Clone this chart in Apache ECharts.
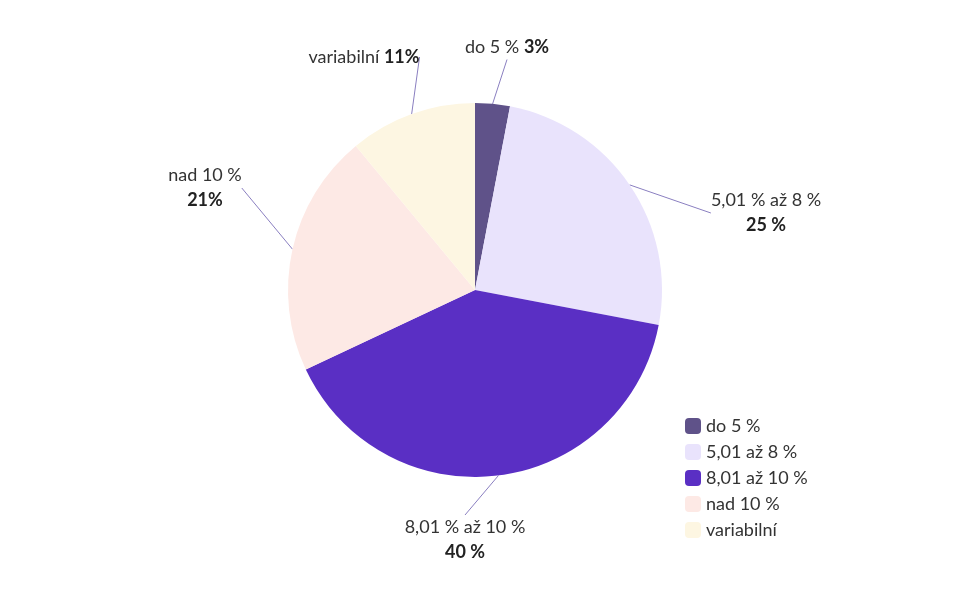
<!DOCTYPE html>
<html><head><meta charset="utf-8">
<script src="https://cdn.jsdelivr.net/npm/echarts@6/dist/echarts.min.js"></script>
<style>html,body{margin:0;background:#fff}#c{width:960px;height:600px}</style>
</head><body><div id="c"></div>
<script>
const categories = ['do 5 %', '5,01 % až 8 %', '8,01 % až 10 %', 'nad 10 %', 'variabilní'];
const legendNames = ['do 5 %', '5,01 až 8 %', '8,01 až 10 %', 'nad 10 %', 'variabilní'];
const values = [3, 25, 40, 21, 11];
const valueLabels = ['3%', '25 %', '40 %', '21%', '11%'];
const colors = ['#5f5289', '#e9e3fc', '#5a2fc4', '#fde9e5', '#fdf6e2'];
const twoLine = [false, true, true, true, false];
const labelSpots = [[507, 47], [766, 213], [465, 540], [205, 188], [364, 57]];

const chart = echarts.init(document.getElementById('c'));
chart.setOption({
  animation: false,
  legend: {
    orient: 'vertical', left: 680, top: 412, itemWidth: 16, itemHeight: 16, itemGap: 8,
    textStyle: { fontFamily: 'Lato', fontSize: 18, color: '#333' },
    data: legendNames
  },
  series: [{
    type: 'pie', center: [475, 290], radius: 187, startAngle: 90, clockwise: true,
    label: {
      fontFamily: 'Lato', fontSize: 18, color: '#333', lineHeight: 25, align: 'center',
      rich: { b: { fontWeight: 'bold', fontSize: 18, color: '#222', fontFamily: 'Lato' } }
    },
    labelLine: { length: 28, length2: 0, lineStyle: { color: '#8a7fc0', width: 1 } },
    labelLayout: function (p) {
      const s = labelSpots[p.dataIndex];
      return { x: s[0], y: s[1], align: 'center', verticalAlign: 'middle' };
    },
    data: values.map((v, i) => ({
      value: v, name: legendNames[i],
      itemStyle: { color: colors[i] },
      label: {
        formatter: categories[i] + (twoLine[i] ? '\n' : ' ') + '{b|' + valueLabels[i] + '}'
      }
    }))
  }]
});
</script></body></html>
